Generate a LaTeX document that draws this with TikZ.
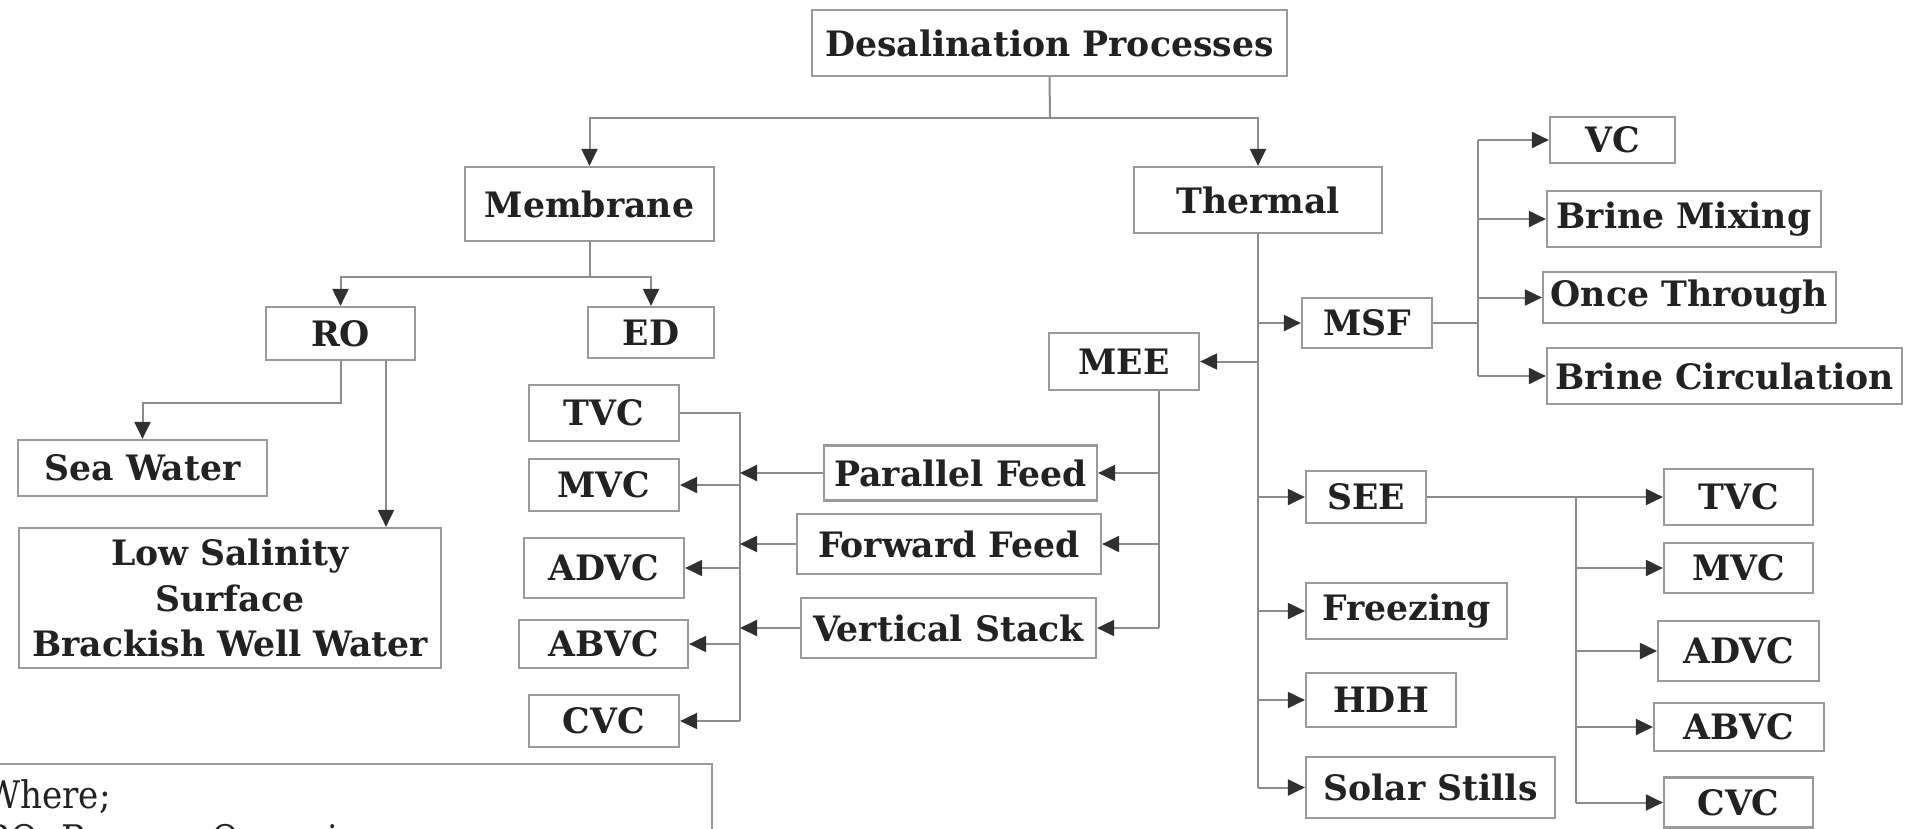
\documentclass[tikz,border=0pt]{standalone}
\usepackage{fontspec}
\setmainfont{DejaVu Serif Condensed}
\newfontfamily\widefont{DejaVu Serif Condensed}[FakeStretch=1.1]
\usetikzlibrary{arrows.meta}
\definecolor{boxgray}{HTML}{9A9A9A}
\definecolor{linegray}{HTML}{8C8C8C}
\definecolor{tipgray}{HTML}{303030}
\definecolor{txt}{HTML}{222222}
\newcommand\labelfont{\widefont\bfseries\fontsize{35}{45.5}\selectfont}
\newcommand\keyfont{\fontsize{38}{45}\selectfont}
\tikzset{
  box/.style={draw=boxgray, line width=2.2pt, fill=white, inner sep=0pt,
    font=\labelfont, text=txt, align=center},
  sz/.style 2 args={minimum width=#1pt, minimum height=#2pt},
  link/.style={draw=linegray, line width=2pt},
  arr/.style={link, -{Triangle[length=17pt,width=16pt,color=tipgray]}},
  keytext/.style={anchor=base west, inner sep=0pt, font=\keyfont, text=txt}
}
\begin{document}
\begin{tikzpicture}[x=1pt,y=-1pt]
\clip (0,0) rectangle (1905,828);
\fill[white] (0,0) rectangle (1905,828);

% root and the two families
\node[box,sz={475}{66}] (top) at (1049.5,43) {Desalination Processes};
\node[box,sz={249}{74}] (mem) at (589.5,204) {Membrane};
\node[box,sz={248}{66}] (thermal) at (1258,200) {Thermal};

% membrane branch
\node[box,sz={149}{53}] (ro) at (340.5,333.5) {RO};
\node[box,sz={126}{51}] (ed) at (651,332.5) {ED};
\node[box,sz={249}{56}] (sea) at (142.5,468) {Sea Water};
\node[box,sz={422}{140}] (low) at (230,598) {Low Salinity\\Surface\\Brackish Well Water};

% vapour compression variants (left)
\node[box,sz={150}{56}] (ltvc) at (604,413) {TVC};
\node[box,sz={150}{52}] (lmvc) at (604,485) {MVC};
\node[box,sz={160}{60}] (ladvc) at (604,568) {ADVC};
\node[box,sz={169}{48}] (labvc) at (603.5,644) {ABVC};
\node[box,sz={150}{52}] (lcvc) at (604,721) {CVC};

% MEE arrangements
\node[box,sz={150}{57}] (mee) at (1124,361.5) {MEE};
\node[box,sz={273}{55}] (pf) at (960.5,473) {Parallel Feed};
\node[box,sz={304}{60}] (ff) at (949,544) {Forward Feed};
\node[box,sz={295}{60}] (vs) at (948.5,628) {Vertical Stack};

% MSF and its variants
\node[box,sz={130}{50}] (msf) at (1367,323) {MSF};
\node[box,sz={125}{46}] (vc) at (1612.5,140) {VC};
\node[box,sz={274}{56}] (bm) at (1684,219) {Brine Mixing};
\node[box,sz={293}{51}] (ot) at (1689.5,297.5) {Once Through};
\node[box,sz={355}{56}] (bc) at (1724.5,376) {Brine Circulation};

% other thermal processes
\node[box,sz={120}{52}] (see) at (1366,497) {SEE};
\node[box,sz={201}{56}] (frz) at (1406.5,611) {Freezing};
\node[box,sz={150}{54}] (hdh) at (1381,700) {HDH};
\node[box,sz={249}{61}] (sol) at (1430.5,787.5) {Solar Stills};

% vapour compression variants (right)
\node[box,sz={149}{56}] (rtvc) at (1738.5,497) {TVC};
\node[box,sz={149}{50}] (rmvc) at (1738.5,568) {MVC};
\node[box,sz={161}{60}] (radvc) at (1738.5,651) {ADVC};
\node[box,sz={170}{48}] (rabvc) at (1739,727) {ABVC};
\node[box,sz={149}{50}] (rcvc) at (1738.5,802.5) {CVC};

% abbreviation key
\node[draw=boxgray, line width=2.2pt, fill=white, sz={732}{140}] (key) at (346,834) {};
\node[keytext] (kw) at (-15,808) {Where;};
\node[keytext] (kro) at (-15,852) {RO: Reverse Osmosis};

% junction points
\coordinate (j1) at (1050,118);
\coordinate (j2) at (589.5,277);
\coordinate (jro) at (340.5,403);
\coordinate (rox) at (386,0);
\coordinate (lvx) at (740,0);
\coordinate (meex) at (1159,0);
\coordinate (msfx) at (1478,0);
\coordinate (seex) at (1576,0);

% root split
\draw[link] (top.south) -- (j1);
\draw[arr] (j1) -| (mem.north);
\draw[arr] (j1) -| (thermal.north);

% membrane split
\draw[link] (mem.south) -- (j2);
\draw[arr] (j2) -| (ro.north);
\draw[arr] (j2) -| (ed.north);

% RO feeds
\draw[arr] (ro.south) -- (jro) -| (sea.north);
\draw[arr] (rox |- ro.south) -- (rox |- low.north);

% thermal trunk
\draw[link] (thermal.south) -- (thermal.south |- sol.west);
\draw[arr] (thermal.south |- msf.west) -- (msf.west);
\draw[arr] (thermal.south |- mee.east) -- (mee.east);
\draw[arr] (thermal.south |- see.west) -- (see.west);
\draw[arr] (thermal.south |- frz.west) -- (frz.west);
\draw[arr] (thermal.south |- hdh.west) -- (hdh.west);
\draw[arr] (thermal.south |- sol.west) -- (sol.west);

% MSF variants
\draw[link] (msf.east) -- (msf.east -| msfx);
\draw[link] (msfx |- vc.west) -- (msfx |- bc.west);
\draw[arr] (msfx |- vc.west) -- (vc.west);
\draw[arr] (msfx |- bm.west) -- (bm.west);
\draw[arr] (msfx |- ot.west) -- (ot.west);
\draw[arr] (msfx |- bc.west) -- (bc.west);

% MEE arrangements
\draw[link] (meex |- mee.south) -- (meex |- vs.east);
\draw[arr] (meex |- pf.east) -- (pf.east);
\draw[arr] (meex |- ff.east) -- (ff.east);
\draw[arr] (meex |- vs.east) -- (vs.east);

% left vapour compression bus
\draw[link] (ltvc.east) -- (ltvc.east -| lvx) -- (lvx |- lcvc.east);
\draw[arr] (pf.west) -- (pf.west -| lvx);
\draw[arr] (ff.west) -- (ff.west -| lvx);
\draw[arr] (vs.west) -- (vs.west -| lvx);
\draw[arr] (lvx |- lmvc.east) -- (lmvc.east);
\draw[arr] (lvx |- ladvc.east) -- (ladvc.east);
\draw[arr] (lvx |- labvc.east) -- (labvc.east);
\draw[arr] (lvx |- lcvc.east) -- (lcvc.east);

% SEE vapour compression bus
\draw[arr] (see.east) -- (rtvc.west);
\draw[link] (seex |- see.east) -- (seex |- rcvc.west);
\draw[arr] (seex |- rmvc.west) -- (rmvc.west);
\draw[arr] (seex |- radvc.west) -- (radvc.west);
\draw[arr] (seex |- rabvc.west) -- (rabvc.west);
\draw[arr] (seex |- rcvc.west) -- (rcvc.west);
\end{tikzpicture}
\end{document}
